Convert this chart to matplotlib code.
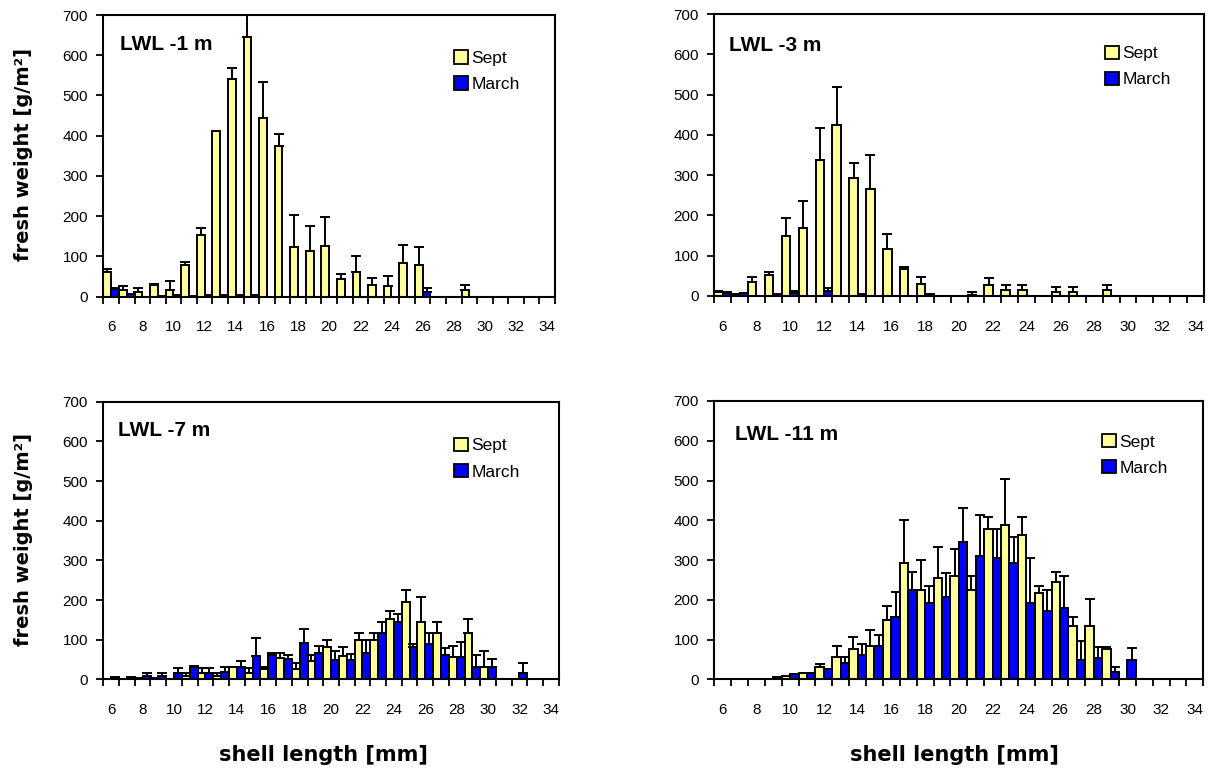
import numpy as np
import matplotlib
matplotlib.use('Agg')
import matplotlib.pyplot as plt
from matplotlib.patches import Patch

plt.rcParams['font.family'] = ['Liberation Sans', 'DejaVu Sans']

# shell length classes [mm]
lengths = list(range(6, 35))
tick_labels = [str(v) for v in range(6, 35, 2)]

# LWL -1 m   (values per class 6..34, err = upper error bar)
sept_1 = [62, 15, 11, 28, 17, 79, 154, 411, 540, 645, 445, 374, 123, 112, 126, 44, 61, 29, 25, 83, 79, 0, 0, 17, 0, 0, 0, 0, 0]
sept_1_err = [7, 10, 11, 2, 21, 7, 16, 1, 29, 57, 89, 30, 79, 63, 71, 12, 39, 17, 26, 44, 44, 0, 0, 12, 0, 0, 0, 0, 0]
march_1 = [19, 7, 0, 2, 3, 2, 3, 3, 3, 3, 0, 0, 0, 0, 0, 0, 0, 0, 0, 0, 11, 0, 0, 0, 0, 0, 0, 0, 0]
march_1_err = [3, 0, 0, 0, 0, 0, 0, 0, 0, 0, 0, 0, 0, 0, 0, 0, 0, 0, 0, 0, 11, 0, 0, 0, 0, 0, 0, 0, 0]

# LWL -3 m
sept_3 = [9, 5, 34, 51, 149, 168, 337, 424, 292, 265, 116, 67, 29, 0, 0, 3, 27, 15, 15, 0, 11, 11, 0, 15, 0, 0, 0, 0, 0]
sept_3_err = [3, 0, 12, 9, 44, 69, 79, 96, 39, 85, 37, 6, 17, 0, 0, 6, 17, 12, 12, 0, 11, 12, 0, 12, 0, 0, 0, 0, 0]
march_3 = [7, 7, 0, 4, 8, 0, 12, 0, 4, 0, 0, 0, 6, 0, 0, 0, 0, 0, 0, 0, 0, 0, 0, 0, 0, 0, 0, 0, 0]
march_3_err = [3, 0, 0, 0, 4, 0, 8, 0, 0, 0, 0, 0, 0, 0, 0, 0, 0, 0, 0, 0, 0, 0, 0, 0, 0, 0, 0, 0, 0]

# LWL -7 m
sept_7 = [2, 2, 4, 3, 2, 8, 17, 8, 32, 17, 25, 53, 25, 45, 81, 59, 99, 99, 151, 194, 144, 118, 57, 118, 32, 0, 0, 0, 0]
sept_7_err = [0, 0, 0, 0, 0, 9, 11, 9, 0, 11, 7, 14, 15, 16, 18, 22, 19, 19, 21, 31, 64, 26, 27, 34, 40, 0, 0, 0, 0]
march_7 = [5, 5, 8, 8, 17, 32, 17, 19, 32, 59, 61, 50, 91, 67, 49, 49, 67, 118, 144, 81, 89, 61, 57, 32, 32, 0, 17, 0, 0]
march_7_err = [0, 0, 7, 7, 11, 1, 11, 13, 13, 44, 6, 11, 35, 17, 23, 14, 32, 26, 20, 8, 29, 17, 38, 29, 18, 0, 23, 0, 0]

# LWL -11 m
sept_11 = [0, 0, 0, 2, 9, 15, 32, 57, 77, 84, 148, 293, 225, 256, 261, 225, 378, 387, 362, 216, 244, 134, 134, 77, 0, 0, 0, 0, 0]
sept_11_err = [0, 0, 0, 0, 0, 0, 7, 27, 29, 40, 36, 108, 75, 78, 66, 36, 31, 118, 47, 19, 25, 22, 68, 5, 0, 0, 0, 0, 0]
march_11 = [0, 0, 0, 5, 13, 15, 25, 40, 61, 84, 158, 225, 193, 206, 346, 311, 306, 293, 193, 172, 180, 49, 54, 18, 49, 0, 0, 0, 0]
march_11_err = [0, 0, 0, 0, 0, 2, 2, 15, 28, 27, 62, 44, 42, 61, 84, 102, 72, 64, 113, 53, 81, 48, 28, 14, 31, 0, 0, 0, 0]

yellow = '#FFFF99'
blue = '#0000FF'


def draw_panel(ax, title, sept, sept_err, march, march_err, title_pos, legend_pos):
    x = np.array(lengths, dtype=float)
    w = 0.5
    ax.bar(x - w / 2, sept, w, color=yellow, edgecolor='black', linewidth=1.4, zorder=2)
    ax.bar(x + w / 2, march, w, color=blue, edgecolor='black', linewidth=1.4, zorder=2)
    # only upper error bars, as in the original
    for off, vals, err in [(-w / 2, sept, sept_err), (w / 2, march, march_err)]:
        vals = np.array(vals, dtype=float)
        err = np.array(err, dtype=float)
        m = err > 0
        ax.errorbar(x[m] + off, vals[m], yerr=[np.zeros(m.sum()), err[m]], fmt='none',
                    ecolor='black', elinewidth=1.4, capsize=3.5, capthick=1.4, zorder=3)

    ax.set_xlim(5.5, 34.5)
    ax.set_ylim(0, 700)
    ax.set_xticks(range(6, 35, 2))
    ax.set_xticklabels(tick_labels)
    ax.set_xticks(np.arange(5.5, 35, 1), minor=True)
    ax.tick_params(axis='x', which='major', length=0, pad=17, labelsize=11)
    ax.tick_params(axis='x', which='minor', length=5, width=1.3, direction='out')
    ax.set_yticks(range(0, 701, 100))
    ax.tick_params(axis='y', length=5, width=1.3, pad=6, labelsize=11)
    for s in ax.spines.values():
        s.set_linewidth(1.5)

    ax.text(title_pos[0], title_pos[1], title, transform=ax.transAxes, ha='left', va='center',
            fontsize=15, fontweight='bold')
    handles = [Patch(facecolor=yellow, edgecolor='black', linewidth=1.3, label='Sept'),
               Patch(facecolor=blue, edgecolor='black', linewidth=1.3, label='March')]
    ax.legend(handles=handles, loc='upper left', bbox_to_anchor=legend_pos, frameon=False,
              fontsize=12.5, handlelength=0.8, handleheight=0.8, handletextpad=0.2,
              labelspacing=0.6, borderpad=0, borderaxespad=0)


fig = plt.figure(figsize=(12.16, 7.71), dpi=100)
ax1 = fig.add_axes([0.085, 0.6154, 0.3714, 0.3651])
ax2 = fig.add_axes([0.5874, 0.6161, 0.4027, 0.3657])
ax3 = fig.add_axes([0.085, 0.1189, 0.3745, 0.3601])
ax4 = fig.add_axes([0.5874, 0.1189, 0.4022, 0.3610])

draw_panel(ax1, 'LWL -1 m', sept_1, sept_1_err, march_1, march_1_err, (0.037, 0.897), (0.777, 0.875))
draw_panel(ax2, 'LWL -3 m', sept_3, sept_3_err, march_3, march_3_err, (0.030, 0.890), (0.798, 0.888))
draw_panel(ax3, 'LWL -7 m', sept_7, sept_7_err, march_7, march_7_err, (0.032, 0.897), (0.770, 0.870))
draw_panel(ax4, 'LWL -11 m', sept_11, sept_11_err, march_11, march_11_err, (0.042, 0.881), (0.793, 0.882))

for yc in [0.80, 0.30]:
    fig.text(0.019, yc, 'fresh weight [g/m²]', rotation=90, ha='center', va='center',
             fontsize=14, fontweight='bold', family=['DejaVu Sans'])
for xc in [0.266, 0.785]:
    fig.text(xc, 0.021, 'shell length [mm]', ha='center', va='center',
             fontsize=15, fontweight='bold', family=['DejaVu Sans'])

fig.savefig('out.png', dpi=100)
